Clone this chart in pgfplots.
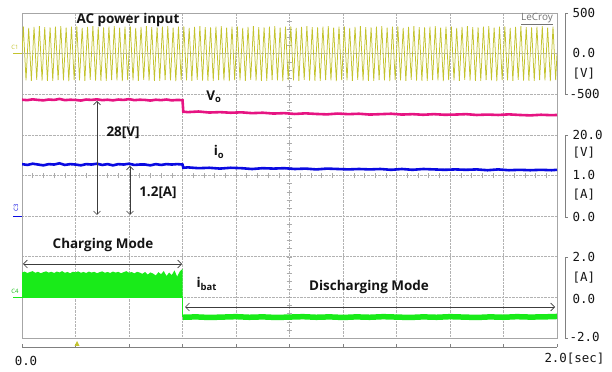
\documentclass[border=0pt]{standalone}
\usepackage{pgfplots}
\pgfplotsset{compat=1.18}
\usepackage{fontspec}
\usetikzlibrary{arrows.meta}
\newfontfamily\ann{Open Sans}
\newfontfamily\mono{DejaVu Sans Mono}
\definecolor{accol}{RGB}{195,195,45}
\definecolor{vocol}{RGB}{230,20,130}
\definecolor{iocol}{RGB}{10,10,225}
\definecolor{ibcol}{RGB}{25,235,25}
\definecolor{txt}{RGB}{20,20,20}
\definecolor{arr}{RGB}{60,60,60}
\pgfplotsset{chan/.style={at={(22bp,34bp)}, anchor=south west, width=535bp, height=325bp,
  scale only axis, xmin=0, xmax=2, hide axis}}
\newcommand{\annf}{\ann\bfseries\fontsize{13.5}{15}\selectfont}
\newcommand{\monof}{\mono\fontsize{12.5}{14}\selectfont}
\begin{document}
\begin{tikzpicture}
\path[use as bounding box] (0bp,0bp) rectangle (612bp,372bp);
% ---------- graticule ----------
\begin{axis}[chan, hide axis=false, ymin=-4, ymax=4,
  xtick={0,0.2,0.4,0.6,0.8,1.0,1.2,1.4,1.6,1.8,2.0}, ytick={-4,-3,-2,-1,0,1,2,3,4},
  xticklabels={}, yticklabels={}, tick style={draw=none},
  grid=major, major grid style={gray!60, densely dotted, line width=0.6bp},
  axis line style={gray!70, line width=0.8bp}]
\pgfplotsinvokeforeach{0.04,0.08,...,1.97}{\draw[gray!65, line width=0.5bp] (axis cs:#1,-0.07) -- (axis cs:#1,0.07);}
\pgfplotsinvokeforeach{-3.8,-3.6,...,3.81}{\draw[gray!65, line width=0.5bp] (axis cs:0.989,#1) -- (axis cs:1.011,#1);}
\end{axis}
% ---------- C1: AC input ----------
\begin{axis}[chan, ymin=-3500, ymax=500]
\addplot[accol, line width=0.75bp] table[row sep=\\] {t v\\ 0 0\\
0.005 334\\0.015 -328\\0.025 318\\0.035 -336\\0.045 330\\0.055 -322\\0.065 338\\0.075 -331\\0.085 326\\0.095 -334\\
0.105 322\\0.115 -335\\0.125 331\\0.135 -326\\0.145 337\\0.155 -330\\0.165 320\\0.175 -338\\0.185 333\\0.195 -327\\
0.205 334\\0.215 -328\\0.225 318\\0.235 -336\\0.245 330\\0.255 -322\\0.265 338\\0.275 -331\\0.285 326\\0.295 -334\\
0.305 322\\0.315 -335\\0.325 331\\0.335 -326\\0.345 337\\0.355 -330\\0.365 320\\0.375 -338\\0.385 333\\0.395 -327\\
0.405 334\\0.415 -328\\0.425 318\\0.435 -336\\0.445 330\\0.455 -322\\0.465 338\\0.475 -331\\0.485 326\\0.495 -334\\
0.505 322\\0.515 -335\\0.525 331\\0.535 -326\\0.545 337\\0.555 -330\\0.565 320\\0.575 -338\\0.585 333\\0.595 -327\\
0.605 334\\0.615 -328\\0.625 318\\0.635 -336\\0.645 330\\0.655 -322\\0.665 338\\0.675 -331\\0.685 326\\0.695 -334\\
0.705 322\\0.715 -335\\0.725 331\\0.735 -326\\0.745 337\\0.755 -330\\0.765 320\\0.775 -338\\0.785 333\\0.795 -327\\
0.805 334\\0.815 -328\\0.825 318\\0.835 -336\\0.845 330\\0.855 -322\\0.865 338\\0.875 -331\\0.885 326\\0.895 -334\\
0.905 322\\0.915 -335\\0.925 331\\0.935 -326\\0.945 337\\0.955 -330\\0.965 320\\0.975 -338\\0.985 333\\0.995 -327\\
1.005 334\\1.015 -328\\1.025 318\\1.035 -336\\1.045 330\\1.055 -322\\1.065 338\\1.075 -331\\1.085 326\\1.095 -334\\
1.105 322\\1.115 -335\\1.125 331\\1.135 -326\\1.145 337\\1.155 -330\\1.165 320\\1.175 -338\\1.185 333\\1.195 -327\\
1.205 334\\1.215 -328\\1.225 318\\1.235 -336\\1.245 330\\1.255 -322\\1.265 338\\1.275 -331\\1.285 326\\1.295 -334\\
1.305 322\\1.315 -335\\1.325 331\\1.335 -326\\1.345 337\\1.355 -330\\1.365 320\\1.375 -338\\1.385 333\\1.395 -327\\
1.405 334\\1.415 -328\\1.425 318\\1.435 -336\\1.445 330\\1.455 -322\\1.465 338\\1.475 -331\\1.485 326\\1.495 -334\\
1.505 322\\1.515 -335\\1.525 331\\1.535 -326\\1.545 337\\1.555 -330\\1.565 320\\1.575 -338\\1.585 333\\1.595 -327\\
1.605 334\\1.615 -328\\1.625 318\\1.635 -336\\1.645 330\\1.655 -322\\1.665 338\\1.675 -331\\1.685 326\\1.695 -334\\
1.705 322\\1.715 -335\\1.725 331\\1.735 -326\\1.745 337\\1.755 -330\\1.765 320\\1.775 -338\\1.785 333\\1.795 -327\\
1.805 334\\1.815 -328\\1.825 318\\1.835 -336\\1.845 330\\1.855 -322\\1.865 338\\1.875 -331\\1.885 326\\1.895 -334\\
1.905 322\\1.915 -335\\1.925 331\\1.935 -326\\1.945 337\\1.955 -330\\1.965 320\\1.975 -338\\1.985 333\\1.995 -327\\
2.0 0\\};
\end{axis}
% ---------- C2: output voltage Vo ----------
\begin{axis}[chan, ymin=-30, ymax=50]
\addplot[vocol, line width=2.6bp] table[row sep=\\] {t v\\
0 28.65\\0.02 28.55\\0.04 28.75\\0.06 28.6\\0.08 28.5\\0.10 28.7\\0.12 28.6\\0.14 28.85\\0.16 28.55\\0.18 28.65\\
0.20 28.6\\0.22 28.45\\0.24 28.7\\0.26 28.6\\0.28 28.75\\0.30 28.55\\0.32 28.65\\0.34 28.5\\0.36 28.7\\0.38 28.6\\
0.40 28.8\\0.42 28.55\\0.44 28.65\\0.46 28.6\\0.48 28.45\\0.50 28.65\\0.52 28.55\\0.54 28.7\\0.56 28.5\\0.58 28.6\\
0.600 28.55\\0.603 25.7\\0.62 25.6\\0.66 25.75\\0.70 25.5\\0.74 25.6\\0.78 25.45\\0.82 25.55\\0.86 25.35\\0.90 25.45\\
0.94 25.25\\0.98 25.35\\1.02 25.15\\1.06 25.3\\1.10 25.15\\1.14 25.05\\1.18 25.25\\1.22 25.1\\1.26 25.2\\1.30 25.0\\
1.34 25.1\\1.38 25.2\\1.42 25.0\\1.46 25.1\\1.50 24.95\\1.54 25.1\\1.58 24.95\\1.62 25.0\\1.66 25.1\\1.70 24.9\\
1.74 25.0\\1.78 24.9\\1.82 25.05\\1.86 24.9\\1.90 24.8\\1.94 24.95\\1.98 24.85\\2.00 24.9\\};
\end{axis}
% ---------- C3: output current io ----------
\begin{axis}[chan, ymin=-3, ymax=5]
\addplot[iocol, line width=2.6bp] table[row sep=\\] {t i\\
0 1.28\\0.02 1.26\\0.04 1.29\\0.06 1.27\\0.08 1.25\\0.10 1.28\\0.12 1.27\\0.14 1.30\\0.16 1.26\\0.18 1.28\\
0.20 1.27\\0.22 1.25\\0.24 1.28\\0.26 1.27\\0.28 1.29\\0.30 1.26\\0.32 1.28\\0.34 1.25\\0.36 1.28\\0.38 1.27\\
0.40 1.29\\0.42 1.26\\0.44 1.27\\0.46 1.27\\0.48 1.25\\0.50 1.28\\0.52 1.26\\0.54 1.28\\0.56 1.27\\0.58 1.28\\
0.600 1.27\\0.603 1.19\\0.62 1.20\\0.66 1.18\\0.70 1.19\\0.74 1.17\\0.78 1.19\\0.82 1.18\\0.86 1.16\\0.90 1.18\\
0.94 1.17\\0.98 1.18\\1.02 1.16\\1.06 1.17\\1.10 1.15\\1.14 1.17\\1.18 1.16\\1.22 1.15\\1.26 1.16\\1.30 1.15\\
1.34 1.16\\1.38 1.14\\1.42 1.16\\1.46 1.14\\1.50 1.16\\1.54 1.15\\1.58 1.14\\1.62 1.15\\1.66 1.14\\1.70 1.15\\
1.74 1.13\\1.78 1.15\\1.82 1.13\\1.86 1.14\\1.90 1.13\\1.94 1.14\\1.98 1.13\\2.00 1.14\\};
\end{axis}
% ---------- C4: battery current ----------
\begin{axis}[chan, ymin=-2, ymax=14]
\addplot[ibcol, fill=ibcol, draw=none] table[row sep=\\] {t i\\
0 -0.03\\
0.00 1.22\\0.01 1.27\\0.02 1.20\\0.03 1.25\\0.04 1.29\\0.05 1.21\\0.06 1.26\\0.07 1.19\\0.08 1.24\\0.09 1.28\\
0.10 1.22\\0.11 1.26\\0.12 1.20\\0.13 1.27\\0.14 1.23\\0.15 1.29\\0.16 1.21\\0.17 1.25\\0.18 1.19\\0.19 1.26\\
0.20 1.23\\0.21 1.28\\0.22 1.21\\0.23 1.25\\0.24 1.20\\0.25 1.27\\0.26 1.22\\0.27 1.26\\0.28 1.19\\0.29 1.24\\
0.30 1.28\\0.31 1.21\\0.32 1.25\\0.33 1.20\\0.34 1.27\\0.35 1.22\\0.36 1.26\\0.37 1.19\\0.38 1.24\\0.39 1.29\\
0.40 1.21\\0.41 1.25\\0.42 1.18\\0.43 1.26\\0.44 1.22\\0.45 1.16\\0.46 1.25\\0.47 1.12\\0.48 1.23\\0.49 1.17\\
0.50 1.08\\0.51 1.24\\0.52 1.14\\0.53 1.30\\0.54 1.05\\0.55 1.22\\0.56 1.10\\0.57 1.33\\0.58 1.02\\0.59 1.28\\
0.60 1.40\\0.601 -0.03\\};
\addplot[ibcol, line width=0.9bp] table[row sep=\\] {t i\\ 0.601 0\\ 0.601 -0.98\\};
\addplot[ibcol, line width=5.5bp] table[row sep=\\] {t i\\
0.601 -0.98\\0.65 -0.96\\0.70 -0.99\\0.75 -0.97\\0.80 -0.95\\0.85 -0.98\\0.90 -0.96\\0.95 -0.99\\1.00 -0.97\\
1.05 -0.95\\1.10 -0.98\\1.15 -0.96\\1.20 -0.99\\1.25 -0.96\\1.30 -0.98\\1.35 -0.95\\1.40 -0.97\\1.45 -0.99\\
1.50 -0.96\\1.55 -0.98\\1.60 -0.95\\1.65 -0.97\\1.70 -0.99\\1.75 -0.96\\1.80 -0.98\\1.85 -0.95\\1.90 -0.97\\
1.95 -0.96\\2.00 -0.94\\};
\end{axis}
\begin{scope}[x=1bp,y=1bp]
% ---------- left channel markers ----------
\node[accol, font=\ann\fontsize{6}{6}\selectfont] at (15,325) {C1};
\draw[accol, line width=0.8bp] (13,319) -- (22,319);
\node[iocol, rotate=90, font=\ann\fontsize{6}{6}\selectfont] at (16,164) {C3};
\draw[iocol, line width=0.8bp] (13,156) -- (22,156);
\node[ibcol!80!black, font=\ann\fontsize{6}{6}\selectfont] at (15,81) {C4};
\draw[ibcol, line width=0.8bp] (13,75) -- (22,75);
% ---------- annotations ----------
\node[txt, font=\annf] at (128,352) {AC power input};
\node[gray!90!black, font=\ann\fontsize{10}{11}\selectfont] at (537,353) {\underline{LeCroy}};
\node[txt, font=\annf] at (214,275) {V\textsubscript{o}};
\node[txt, font=\annf] at (219,220) {i\textsubscript{o}};
\node[txt, font=\annf] at (123,239) {28[V]};
\node[txt, font=\annf] at (158,179) {1.2[A]};
\draw[arr, line width=0.6bp, {Straight Barb[length=3.5bp]}-{Straight Barb[length=3.5bp]}] (97,271) -- (97,157);
\draw[arr, line width=0.6bp, {Straight Barb[length=3.5bp]}-{Straight Barb[length=3.5bp]}] (130,206) -- (130,157);
\node[txt, font=\annf] at (103,127) {Charging Mode};
\draw[arr, line width=0.6bp, {Straight Barb[length=4bp]}-{Straight Barb[length=4bp]}] (23,108) -- (182,108);
\node[txt, font=\annf, anchor=west] at (193,88) {i\textsubscript{bat}};
\node[txt, font=\annf] at (369,85) {Discharging Mode};
\draw[arr, line width=0.6bp, {Straight Barb[length=4bp]}-{Straight Barb[length=4bp]}] (185,65) -- (555,65);
% ---------- right scale labels ----------
\draw[gray, line width=0.6bp] (568,359) -- (565,359) -- (565,278) -- (568,278);
\node[txt, font=\monof, anchor=west] at (569,359) {500};
\node[txt, font=\monof, anchor=west] at (569,319) {0.0};
\node[txt, font=\monof, anchor=west] at (569,298) {[V]};
\node[txt, font=\monof, anchor=west] at (566,278) {-500};
\draw[gray, line width=0.6bp] (568,237) -- (565,237) -- (565,155) -- (568,155);
\node[txt, font=\monof, anchor=west] at (569,237) {20.0};
\node[txt, font=\monof, anchor=west] at (569,219) {[V]};
\node[txt, font=\monof, anchor=west] at (569,197) {1.0};
\node[txt, font=\monof, anchor=west] at (569,177) {[A]};
\node[txt, font=\monof, anchor=west] at (569,155) {0.0};
\draw[gray, line width=0.6bp] (568,115) -- (565,115) -- (565,34) -- (568,34);
\node[txt, font=\monof, anchor=west] at (569,115) {2.0};
\node[txt, font=\monof, anchor=west] at (569,94) {[A]};
\node[txt, font=\monof, anchor=west] at (569,73) {0.0};
\node[txt, font=\monof, anchor=west] at (566,35) {-2.0};
% ---------- time axis ----------
\draw[gray, line width=0.7bp] (22,25) -- (557,25);
\foreach \k in {0,...,10} {\draw[gray, line width=0.6bp] ({22+53.5*\k},25) -- ({22+53.5*\k},28);}
\fill[accol] (74.5,26) -- (79.5,26) -- (77,31) -- cycle;
\node[txt, font=\monof] at (26,11) {0.0};
\node[txt, font=\monof, anchor=east] at (608,13) {2.0[sec]};
\end{scope}
\end{tikzpicture}
\end{document}
